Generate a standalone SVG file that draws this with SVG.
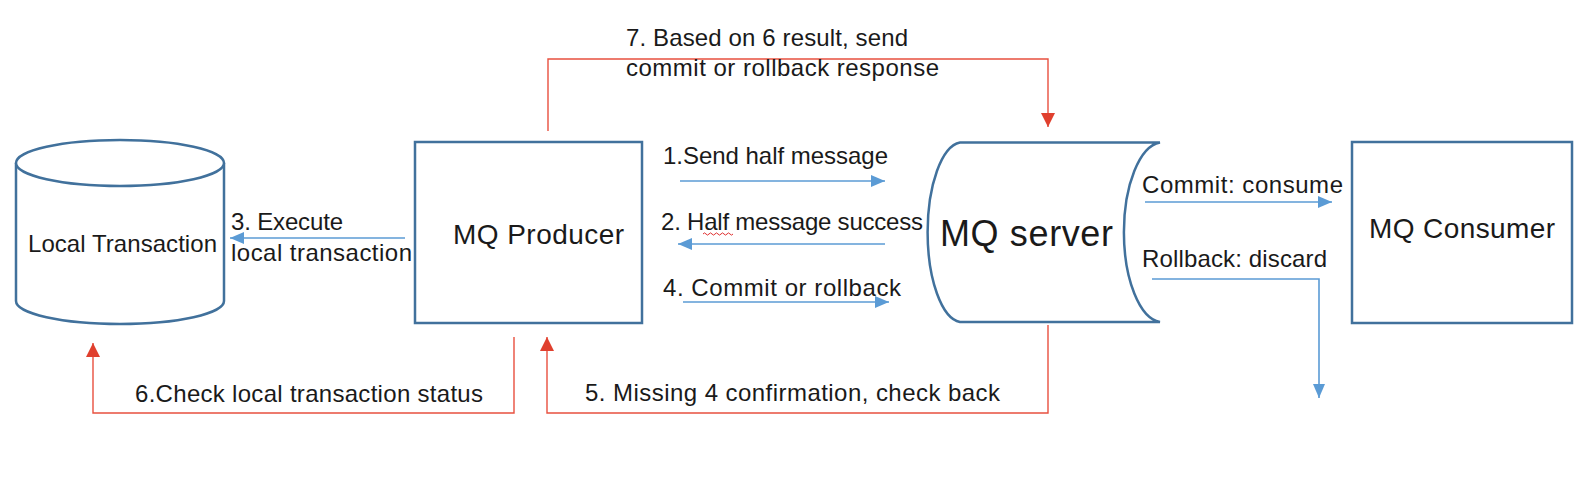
<svg xmlns="http://www.w3.org/2000/svg" width="1596" height="500" viewBox="0 0 1596 500">
<style>
.shape{fill:#ffffff;stroke:#41719C;stroke-width:2.5}
.lbl{font-family:"Liberation Sans",Arial,sans-serif;font-size:24px;fill:#1a1a1a}
.big{font-size:28px}
.huge{font-size:36px}
.blue{fill:none;stroke:#5B9BD5;stroke-width:1.6}
.red{fill:none;stroke:#E8503F;stroke-width:1.4}
</style>
<defs>
<marker id="ab" markerUnits="userSpaceOnUse" markerWidth="14" markerHeight="12" refX="14" refY="6" orient="auto">
<path d="M0,0 L14,6 L0,12 z" fill="#5B9BD5"/>
</marker>
<marker id="ar" markerUnits="userSpaceOnUse" markerWidth="14" markerHeight="14" refX="14" refY="7" orient="auto">
<path d="M0,0 L14,7 L0,14 z" fill="#E0402E"/>
</marker>
</defs>
<rect width="1596" height="500" fill="#ffffff"/>

<g id="local-transaction">
<path class="shape" d="M16,163 V301 A104,23 0 0,0 224,301 V163"/>
<ellipse class="shape" cx="120" cy="163" rx="104" ry="23"/>
<text class="lbl" x="28" y="252" textLength="189" lengthAdjust="spacing">Local Transaction</text>
</g>

<g id="mq-producer">
<rect class="shape" x="415" y="142" width="227" height="181"/>
<text class="lbl big" x="453" y="244" textLength="171" lengthAdjust="spacing">MQ Producer</text>
</g>

<g id="mq-server">
<path class="shape" d="M960,142.5 H1160 A39,90 0 0,0 1160,322 H960 A35,90 0 0,1 960,142.5 Z"/>
<text class="lbl huge" x="940" y="246" textLength="173" lengthAdjust="spacing">MQ server</text>
</g>

<g id="mq-consumer">
<rect class="shape" x="1352" y="142" width="220" height="181"/>
<text class="lbl big" x="1369" y="238" textLength="186" lengthAdjust="spacing">MQ Consumer</text>
</g>

<g id="connectors">
<path class="blue" d="M680,181 H885" marker-end="url(#ab)"/>
<path class="blue" d="M885,244 H678" marker-end="url(#ab)"/>
<path class="blue" d="M683,302 H889" marker-end="url(#ab)"/>
<path class="blue" d="M405,238 H230" marker-end="url(#ab)"/>
<path class="blue" d="M1145,202 H1332" marker-end="url(#ab)"/>
<path class="blue" d="M1152,279 H1319 V398" marker-end="url(#ab)"/>
<path class="red" d="M514,337 V413 H93 V343" marker-end="url(#ar)"/>
<path class="red" d="M1048,325 V413 H547 V337" marker-end="url(#ar)"/>
<path class="red" d="M548,131 V59 H1048 V127" marker-end="url(#ar)"/>
</g>

<g id="labels">
<text class="lbl" x="663" y="164" textLength="225" lengthAdjust="spacing">1.Send half message</text>
<text class="lbl" x="661" y="230" textLength="262" lengthAdjust="spacing">2. Half message success</text>
<path d="M703,234 q1.5,-2.2 3,0 t3,0 t3,0 t3,0 t3,0 t3,0 t3,0 t3,0 t3,0 t3,0" fill="none" stroke="#E03030" stroke-width="1"/>
<text class="lbl" x="663" y="296" textLength="238" lengthAdjust="spacing">4. Commit or rollback</text>
<text class="lbl" x="231" y="230" textLength="112" lengthAdjust="spacing">3. Execute</text>
<text class="lbl" x="231" y="261" textLength="181" lengthAdjust="spacing">local transaction</text>
<text class="lbl" x="1142" y="193" textLength="201" lengthAdjust="spacing">Commit: consume</text>
<text class="lbl" x="1142" y="267" textLength="185" lengthAdjust="spacing">Rollback: discard</text>
<text class="lbl" x="135" y="402" textLength="348" lengthAdjust="spacing">6.Check local transaction status</text>
<text class="lbl" x="585" y="401" textLength="415" lengthAdjust="spacing">5. Missing 4 confirmation, check back</text>
<text class="lbl" x="626" y="46" textLength="282" lengthAdjust="spacing">7. Based on 6 result, send</text>
<text class="lbl" x="626" y="76" textLength="313" lengthAdjust="spacing">commit or rollback response</text>
</g>
</svg>
